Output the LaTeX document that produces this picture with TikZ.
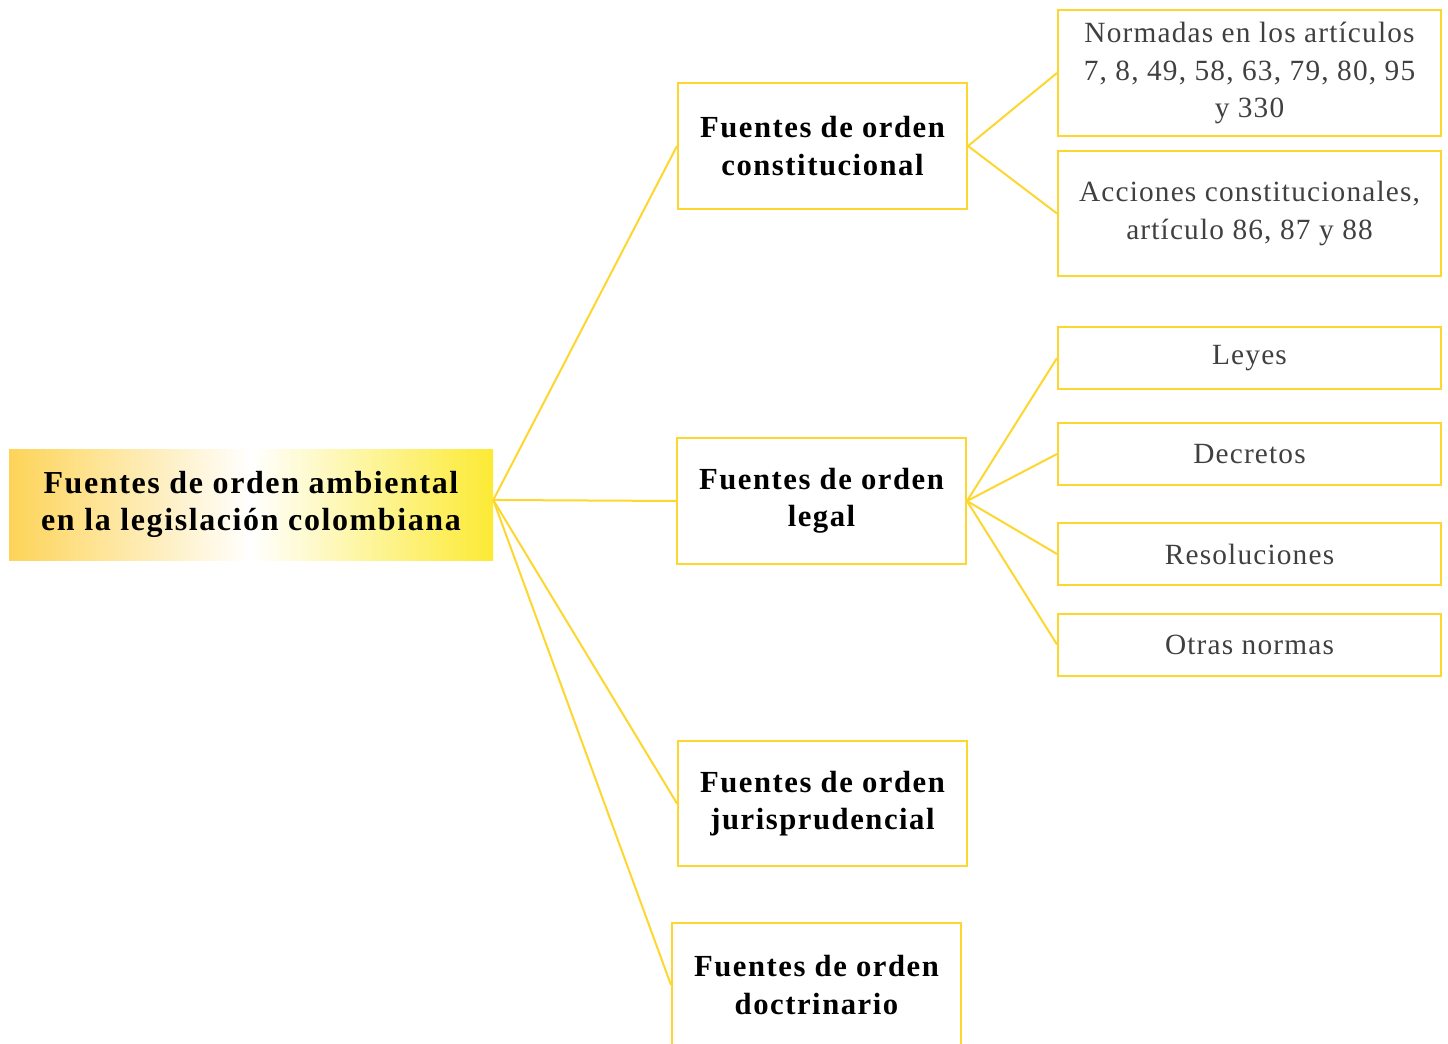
\documentclass[tikz,border=0pt]{standalone}
\usepackage{fontspec}
\setmainfont{Liberation Serif}
\definecolor{gold}{RGB}{253,215,48}
\definecolor{leaftext}{RGB}{64,64,64}
\definecolor{rootleft}{RGB}{253,212,88}
\definecolor{rootright}{RGB}{252,234,52}
\newfontfamily\spacedbold[LetterSpace=5]{Liberation Serif}
\newfontfamily\spacedregular[LetterSpace=4]{Liberation Serif}
\tikzset{
  branch/.style={draw=gold, line width=1.5pt, align=center, inner sep=0pt,
    font=\spacedbold\fontsize{23}{28}\selectfont\bfseries, text=black},
  leafbox/.style={draw=gold, line width=1.5pt, align=center, inner sep=0pt,
    minimum width=287.25pt, font=\spacedregular\fontsize{22}{28}\selectfont, text=leaftext},
  link/.style={draw=gold, line width=1.5pt}
}
\begin{document}
\begin{tikzpicture}[x=0.75pt,y=-0.75pt]
\useasboundingbox (0,0) rectangle (1448,1044);
\clip (0,0) rectangle (1448,1044);

% root with horizontal gradient
\node[inner sep=0pt, minimum width=363pt, minimum height=83.25pt,
      left color=rootleft, right color=rootright, middle color=white,
      align=center, font=\spacedbold\fontsize{24}{28}\selectfont\bfseries]
  (root) at (251,504.5) {Fuentes de orden ambiental\\en la legislación colombiana};

% first-level branches
\node[branch, minimum width=216.75pt, minimum height=94.5pt]
  (const) at (822.5,146) {Fuentes de orden\\constitucional};
\node[branch, minimum width=216.75pt, minimum height=94.5pt]
  (legal) at (821.5,501) {Fuentes de orden\\legal};
\node[branch, minimum width=216.75pt, minimum height=93.75pt]
  (juris) at (822.5,803.5) {Fuentes de orden\\jurisprudencial};
\node[branch, minimum width=216.75pt, minimum height=93pt]
  (doctr) at (816.5,985) {Fuentes de orden\\doctrinario};

% leaves
\node[leafbox, minimum height=94.5pt] (norm) at (1249.5,73) {Normadas en los artículos\\7, 8, 49, 58, 63, 79, 80, 95\\y 330};
\node[leafbox, minimum height=93.75pt] (acc) at (1249.5,213.5) {Acciones constitucionales,\\artículo 86, 87 y 88};
\node[leafbox, minimum height=46.5pt] (leyes) at (1249.5,358) {Leyes};
\node[leafbox, minimum height=46.5pt] (decr) at (1249.5,454) {Decretos};
\node[leafbox, minimum height=46.5pt] (resol) at (1249.5,554) {Resoluciones};
\node[leafbox, minimum height=46.5pt] (otras) at (1249.5,644.5) {Otras normas};

% connectors
\coordinate (rootout) at ([yshift=3.4pt]root.east);
\foreach \t in {const,legal,juris,doctr}
  \draw[link] (rootout) -- (\t.west);
\foreach \t in {norm,acc}
  \draw[link] (const.east) -- (\t.west);
\foreach \t in {leyes,decr,resol,otras}
  \draw[link] (legal.east) -- (\t.west);
\end{tikzpicture}
\end{document}
